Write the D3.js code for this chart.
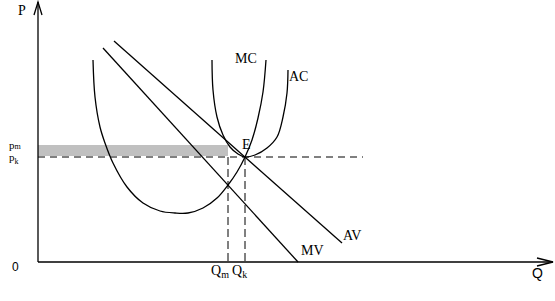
<!DOCTYPE html>
<html><head><meta charset="utf-8">
<script src="https://cdn.jsdelivr.net/npm/d3@7"></script>
<style>html,body{margin:0;padding:0;background:#fff;}svg{display:block;}</style>
</head><body>
<script>
// Data (units: quantity / price in chart units)
const axisMax = {q: 515, p: 260};
const AV = [[76, 221], [304, 19]];
const MV = [[65, 214], [260, 0]];
const MC = [[55,202],[57,165],[62,135],[67,119],[75,99],[89,75],[105,59],[122,51],[137,49],[150,49],[165,54],[179,64],[190,77],[199,90],[207,105],[214,122],[220,144],[225,170],[228,202]];
const AC = [[174,202],[175,172],[179,145],[185,127],[192,115],[200,108],[207,105],[217,107],[229,114],[239,125],[245,145],[249,169],[250,192]];
const pm = 117, pk = 105;
const Qm = 190, Qk = 207;
const dashEnd = 325;
const curveLabels = [
  {t: "MC", q: 197, p: 199},
  {t: "AC", q: 251, p: 181},
  {t: "E", q: 204, p: 113},
  {t: "AV", q: 305, p: 22},
  {t: "MV", q: 263, p: 7}
];

const W = 555, H = 301;
const x = d3.scaleLinear().domain([0, axisMax.q]).range([38, 553]);
const y = d3.scaleLinear().domain([0, axisMax.p]).range([262, 2]);

const svg = d3.select("body").append("svg").attr("width", W).attr("height", H);
const serif = "'Liberation Serif', 'Times New Roman', serif";
const sans = "'Liberation Sans', Arial, sans-serif";

// gray band between pk and pm up to Qm
svg.append("rect")
  .attr("x", x(0)).attr("y", y(pm))
  .attr("width", x(Qm) - x(0)).attr("height", y(pk + 1) - y(pm))
  .attr("fill", "#c0c0c0");

// dashed lines
const dash = "7,5";
svg.append("line").attr("x1", x(0)).attr("x2", x(dashEnd)).attr("y1", y(pk)).attr("y2", y(pk))
  .attr("stroke", "#000").attr("stroke-width", 1).attr("stroke-dasharray", dash);
[Qm, Qk].forEach(q => {
  svg.append("line").attr("x1", x(q)).attr("x2", x(q)).attr("y1", y(pk)).attr("y2", y(0))
    .attr("stroke", "#000").attr("stroke-width", 1).attr("stroke-dasharray", "8,4");
});

// axes
const ax = svg.append("g").attr("stroke", "#000").attr("stroke-width", 1.3).attr("fill", "none");
ax.append("line").attr("x1", x(0)).attr("y1", y(0)).attr("x2", x(0)).attr("y2", y(axisMax.p));
ax.append("line").attr("x1", x(0)).attr("y1", y(0)).attr("x2", x(axisMax.q)).attr("y2", y(0));
ax.append("path").attr("d", `M${x(0)-4},${y(axisMax.p)+13}L${x(0)},${y(axisMax.p)}L${x(0)+4},${y(axisMax.p)+13}`);
ax.append("path").attr("d", `M${x(axisMax.q)-16},${y(0)-4}L${x(axisMax.q)},${y(0)}L${x(axisMax.q)-16},${y(0)+4}`);

// lines and curves
const line = d3.line().x(d => x(d[0])).y(d => y(d[1]));
const curve = d3.line().x(d => x(d[0])).y(d => y(d[1])).curve(d3.curveCatmullRom.alpha(0.5));
const g = svg.append("g").attr("stroke", "#000").attr("stroke-width", 1.3).attr("fill", "none");
g.append("path").attr("d", line(AV));
g.append("path").attr("d", line(MV));
g.append("path").attr("d", curve(MC));
g.append("path").attr("d", curve(AC));

// labels
const txt = svg.append("g").attr("font-family", serif).attr("font-size", 14).attr("fill", "#000");
curveLabels.forEach(l => txt.append("text").attr("x", x(l.q)).attr("y", y(l.p)).text(l.t));

txt.append("text").attr("x", 18).attr("y", 15).text("P");

function sub(xp, yp, main, s, dy, size, mainSize) {
  const t = txt.append("text").attr("x", xp).attr("y", yp).attr("font-size", mainSize || 14);
  t.append("tspan").text(main);
  t.append("tspan").attr("font-size", size).attr("dy", dy).text(s);
}
sub(9, 148.5, "p", "m", 0, 8, 11);
sub(9, 161, "p", "k", 3, 8, 11);
sub(x(Qm) - 17, 275, "Q", "m", 3, 10);
sub(x(Qk) - 13, 275, "Q", "k", 3, 10);

svg.append("text").attr("font-family", sans).attr("font-size", 12).attr("x", 12).attr("y", 271).text("0");
svg.append("text").attr("font-family", sans).attr("font-size", 14).attr("x", 532).attr("y", 278).text("Q");
</script>
</body></html>
